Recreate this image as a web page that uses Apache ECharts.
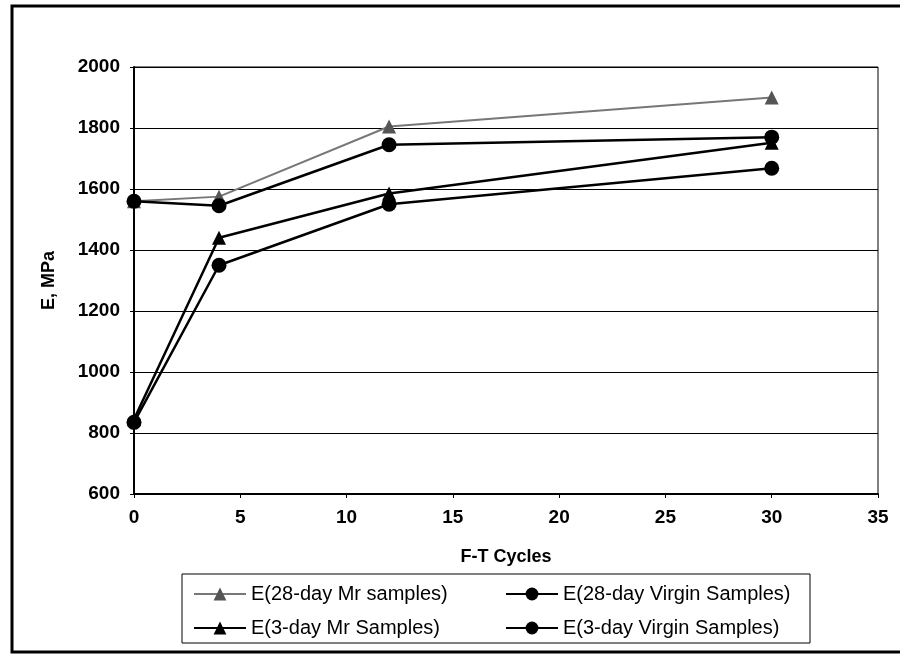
<!DOCTYPE html>
<html>
<head>
<meta charset="utf-8">
<script src="https://cdn.jsdelivr.net/npm/echarts@6/dist/echarts.min.js"></script>
<style>
  html, body { margin: 0; padding: 0; background: #fff; }
  #chart { width: 900px; height: 655px; }
</style>
</head>
<body>
<div id="chart"></div>
<script>
// F-T cycles at which the modulus was measured
const cycles = [0, 4, 12, 30];

// Resilient modulus E (MPa) per sample group
const mr28 = [1560, 1575, 1805, 1900];
const virgin28 = [1560, 1545, 1745, 1770];
const mr3 = [845, 1440, 1585, 1752];
const virgin3 = [835, 1350, 1550, 1668];

const seriesNames = [
  'E(28-day Mr samples)',
  'E(28-day Virgin Samples)',
  'E(3-day Mr Samples)',
  'E(3-day Virgin Samples)'
];

const FONT = '"Liberation Sans", Arial, sans-serif';

function pairs(values) {
  return cycles.map((c, i) => [c, values[i]]);
}

function lineSeries(name, values, symbol, color, lineColor, width) {
  return {
    name: name,
    type: 'line',
    data: pairs(values),
    symbol: symbol,
    symbolSize: symbol === 'circle' ? 15 : 14,
    itemStyle: { color: color },
    lineStyle: { color: lineColor, width: width },
    emphasis: { disabled: true },
    animation: false
  };
}

const chart = echarts.init(document.getElementById('chart'), null, { renderer: 'canvas' });

const legendText = { fontFamily: FONT, fontSize: 20, color: '#000' };
const tickLabel = {
  fontFamily: FONT, fontSize: 19, fontWeight: 'bold', color: '#000', margin: 14,
  formatter: (v) => String(v)
};

chart.setOption({
  backgroundColor: '#fff',
  animation: false,
  grid: {
    left: 134, top: 67, right: 22, bottom: 161,
    show: true, borderColor: '#000', borderWidth: 1, backgroundColor: 'transparent'
  },
  xAxis: {
    type: 'value',
    min: 0, max: 35, interval: 5,
    name: 'F-T Cycles',
    nameLocation: 'middle',
    nameGap: 54,
    nameTextStyle: { fontFamily: FONT, fontSize: 18, fontWeight: 'bold', color: '#000' },
    axisLine: { show: true, onZero: false, lineStyle: { color: '#000', width: 2 } },
    axisTick: { show: true, length: 4, lineStyle: { color: '#000' } },
    axisLabel: tickLabel,
    splitLine: { show: false }
  },
  yAxis: {
    type: 'value',
    min: 600, max: 2000, interval: 200,
    name: 'E, MPa',
    nameLocation: 'middle',
    nameGap: 76,
    nameMoveOverlap: false,
    nameRotate: 90,
    nameTextStyle: { fontFamily: FONT, fontSize: 18, fontWeight: 'bold', color: '#000' },
    axisLine: { show: true, lineStyle: { color: '#000', width: 2 } },
    axisTick: { show: true, length: 4, lineStyle: { color: '#000' } },
    axisLabel: tickLabel,
    splitLine: { show: true, lineStyle: { color: '#000', width: 1 } }
  },
  legend: [
    {
      data: [seriesNames[0], seriesNames[2]],
      orient: 'vertical',
      left: 188, top: 579,
      itemWidth: 52, itemHeight: 16, itemGap: 14,
      textStyle: legendText,
      selectedMode: false
    },
    {
      data: [seriesNames[1], seriesNames[3]],
      orient: 'vertical',
      left: 500, top: 579,
      itemWidth: 52, itemHeight: 16, itemGap: 14,
      textStyle: legendText,
      selectedMode: false
    }
  ],
  graphic: [
    {
      type: 'rect',
      shape: { x: 12, y: 6, width: 900, height: 646 },
      style: { fill: 'none', stroke: '#000', lineWidth: 3 },
      silent: true
    },
    {
      type: 'rect',
      shape: { x: 182, y: 574, width: 628, height: 69 },
      style: { fill: 'none', stroke: '#000', lineWidth: 1 },
      silent: true
    }
  ],
  series: [
    lineSeries(seriesNames[0], mr28, 'triangle', '#555', '#777', 2),
    lineSeries(seriesNames[1], virgin28, 'circle', '#000', '#000', 2.5),
    lineSeries(seriesNames[2], mr3, 'triangle', '#000', '#000', 2.5),
    lineSeries(seriesNames[3], virgin3, 'circle', '#000', '#000', 2.5)
  ]
});
</script>
</body>
</html>
